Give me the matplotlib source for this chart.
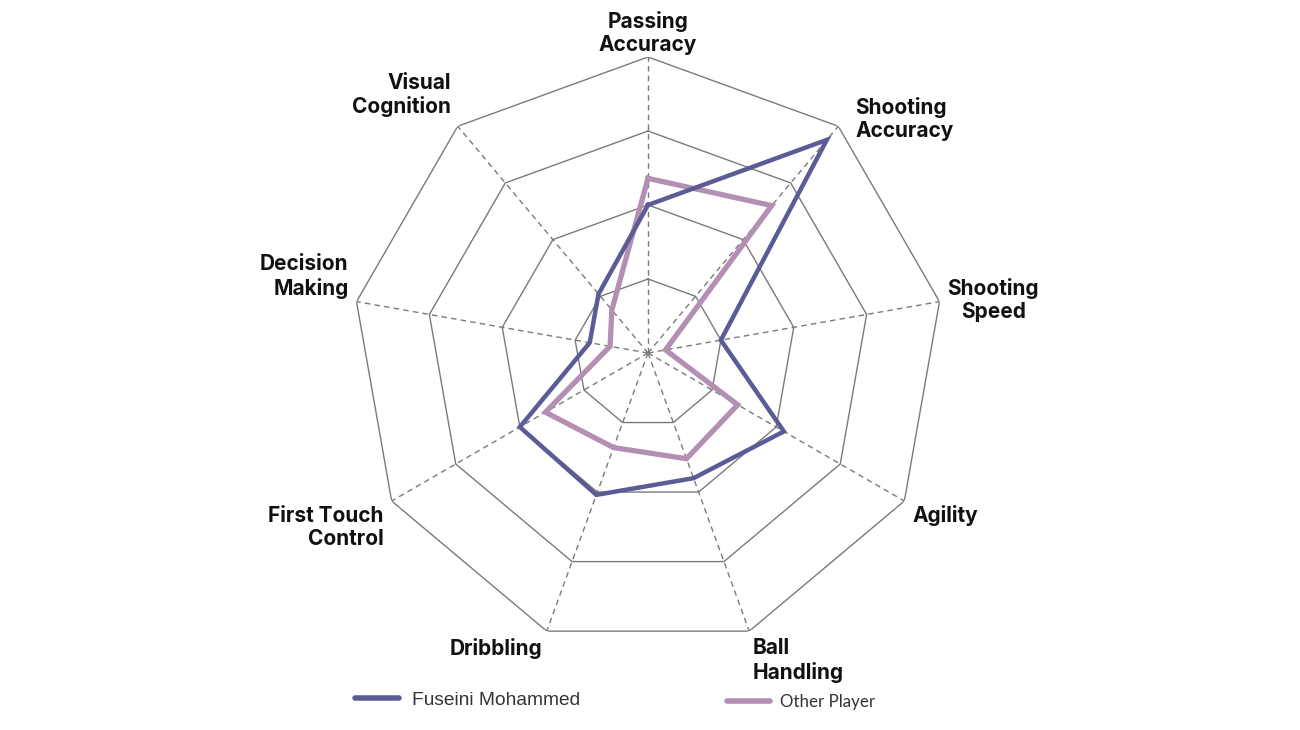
import numpy as np
import matplotlib
matplotlib.use("Agg")
import matplotlib.pyplot as plt
from matplotlib.lines import Line2D

categories = ["Passing\nAccuracy", "Shooting\nAccuracy", "Shooting\nSpeed", "Agility",
              "Ball\nHandling", "Dribbling", "First Touch\nControl", "Decision\nMaking",
              "Visual\nCognition"]
fuseini = [50, 94, 25, 53, 45, 51, 50, 20, 26]
other = [59, 65, 6, 35, 38, 34, 40, 13, 19]
rings = [25, 50, 75, 100]
series_names = ["Fuseini Mohammed", "Other Player"]

C_F = "#5b5b95"
C_O = "#b28fb3"
GRID = "#7a7a7a"

W, H = 1300, 730
fig = plt.figure(figsize=(W / 100, H / 100), dpi=100)
cx, cy, R = 648, 353, 296
ax = fig.add_axes([(cx - R) / W, (H - cy - R) / H, 2 * R / W, 2 * R / H], projection="polar")
ax.set_theta_offset(np.pi / 2)
ax.set_theta_direction(-1)
ax.set_ylim(0, 100)
ax.axis("off")

n = len(categories)
theta = np.linspace(0, 2 * np.pi, n, endpoint=False)
tc = np.append(theta, theta[0])

for r in rings:
    ax.plot(tc, [r] * (n + 1), color=GRID, lw=1.0, zorder=1)
for t in theta:
    ax.plot([t, t], [0, 100], color=GRID, lw=1.0, ls=(0, (4, 3)), zorder=1)

ax.plot(tc, other + other[:1], color=C_O, lw=3.8, solid_joinstyle="miter", zorder=3)
ax.plot(tc, fuseini + fuseini[:1], color=C_F, lw=3.2, solid_joinstyle="miter", zorder=4)

# label placement: (ha, va, dx, dy) pixel offsets from outer vertex
place = [
    ("center", "bottom", 0, 2),
    ("left", "center", 17, 7),
    ("left", "center", 8, 2),
    ("left", "center", 8, -14),
    ("left", "top", 3, -7),
    ("right", "top", -5, -7),
    ("right", "top", -8, -5),
    ("right", "bottom", -8, 3),
    ("right", "bottom", -7, 9),
]
lab_font = dict(family=["Inter", "Lato", "DejaVu Sans"], fontweight="bold", fontsize=15, color="#111111")
for t, lab, (ha, va, dx, dy) in zip(theta, categories, place):
    ma = "center" if ha == "center" else ha
    if lab.startswith("Shooting\nSpeed"):
        ma = "center"
    ax.annotate(lab, xy=(t, 100), xytext=(dx, dy), textcoords="offset pixels",
                ha=ha, va=va, multialignment=ma, linespacing=1.2, **lab_font)

h1 = Line2D([0], [0], color=C_F, lw=4, solid_capstyle="round")
h2 = Line2D([0], [0], color=C_O, lw=4, solid_capstyle="round")
leg1 = fig.legend([h1], [series_names[0]], loc="center left", bbox_to_anchor=(355 / W, 1 - 700 / H),
                  frameon=False, borderpad=0, borderaxespad=0, handlelength=2.3, handletextpad=0.7,
                  prop=dict(family=["Liberation Sans", "DejaVu Sans"], size=13.8), labelcolor="#333333")
leg2 = fig.legend([h2], [series_names[1]], loc="center left", bbox_to_anchor=(727 / W, 1 - 702 / H),
                  frameon=False, borderpad=0, borderaxespad=0, handlelength=2.55, handletextpad=0.6,
                  prop=dict(family=["Lato", "DejaVu Sans"], size=12.2), labelcolor="#333333")

fig.savefig("out.png", dpi=100, facecolor="white")
